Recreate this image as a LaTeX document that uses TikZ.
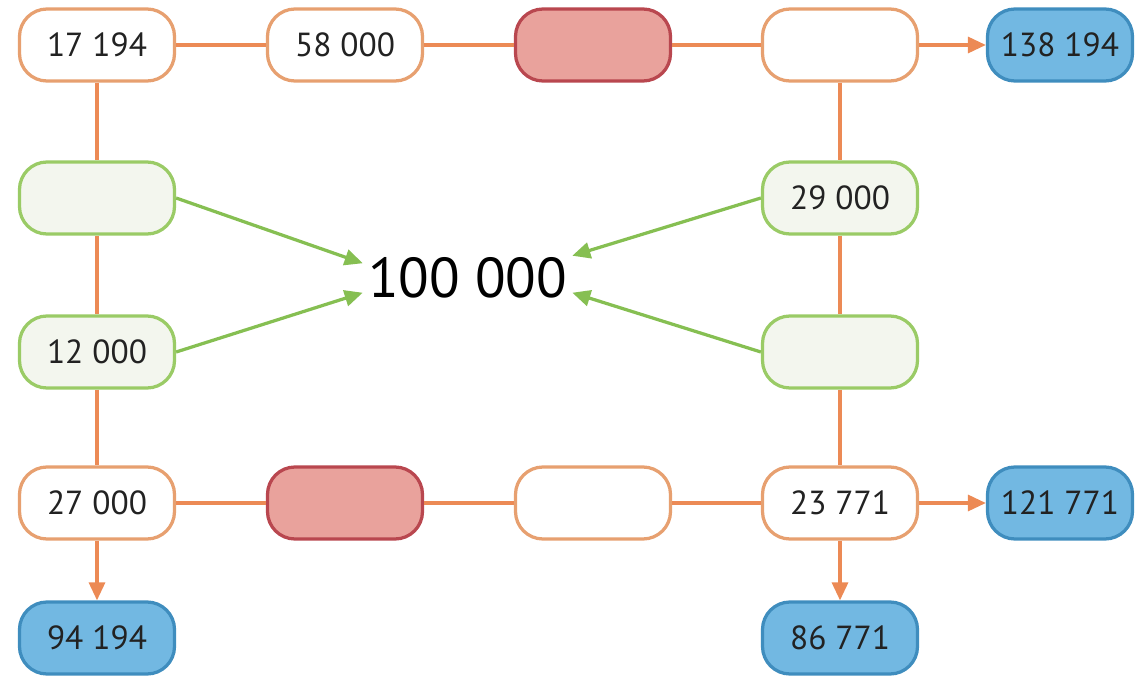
\documentclass[tikz,border=0pt]{standalone}
\usepackage{fontspec}
\setmainfont{PT Sans}
\usetikzlibrary{arrows.meta}
\definecolor{lineor}{HTML}{EC8A55}
\definecolor{boxor}{HTML}{E7A070}
\definecolor{redfill}{HTML}{E9A29C}
\definecolor{redline}{HTML}{B9474F}
\definecolor{bluefill}{HTML}{72B8E2}
\definecolor{blueline}{HTML}{3F8DBE}
\definecolor{grline}{HTML}{9ACB66}
\definecolor{grfill}{HTML}{F3F6EE}
\definecolor{grarrow}{HTML}{86BF52}
\definecolor{numtext}{HTML}{222222}
\tikzset{
  numbox/.style={draw, rounded corners=0.55cm, minimum width=3.1cm, minimum height=1.44cm,
    line width=0.65mm, inner sep=0pt, text=numtext, font=\fontsize{19}{21}\selectfont},
  whitebox/.style={numbox, draw=boxor, fill=white},
  redbox/.style={numbox, draw=redline, fill=redfill},
  bluebox/.style={numbox, draw=blueline, fill=bluefill, minimum width=2.9cm},
  greenbox/.style={numbox, draw=grline, fill=grfill},
  orline/.style={draw=lineor, line width=0.65mm},
  orarrow/.style={orline, -{Triangle[length=0.36cm,width=0.32cm]}},
  grarr/.style={draw=grarrow, line width=0.65mm, -{Triangle[length=0.36cm,width=0.32cm]}}
}
\begin{document}
\begin{tikzpicture}
		%%%%% START %%%%%
		\useasboundingbox (0, 0) rectangle (22.72, 13.5);
		
		% top row
		\node[whitebox] (a1) at (1.94, 12.6) {17 194};
		\node[whitebox] (a2) at (6.9, 12.6) {58 000};
		\node[redbox] (a3) at (11.86, 12.6) {};
		\node[whitebox] (a4) at (16.8, 12.6) {};
		\node[bluebox] (a5) at (21.2, 12.6) {138 194};
		
		% middle
		\node[greenbox] (g1) at (1.94, 9.54) {};
		\node[greenbox] (g2) at (16.8, 9.54) {29 000};
		\node[greenbox] (g3) at (1.94, 6.46) {12 000};
		\node[greenbox] (g4) at (16.8, 6.46) {};
		\node[font=\fontsize{32}{34}\selectfont, inner sep=0.1cm] (c) at (9.35, 7.94) {100 000};
		
		% bottom rows
		\node[whitebox] (b1) at (1.94, 3.44) {27 000};
		\node[redbox] (b2) at (6.9, 3.44) {};
		\node[whitebox] (b3) at (11.86, 3.44) {};
		\node[whitebox] (b4) at (16.8, 3.44) {23 771};
		\node[bluebox] (b5) at (21.2, 3.44) {121 771};
		\node[bluebox, minimum width=3.1cm] (d1) at (1.94, 0.74) {94 194};
		\node[bluebox, minimum width=3.1cm] (d2) at (16.8, 0.74) {86 771};
		
		\draw[orline] (a1) -- (a2);
		\draw[orline] (a2) -- (a3);
		\draw[orline] (a3) -- (a4);
		\draw[orarrow] (a4) -- (a5);
		\draw[orline] (a1) -- (g1);
		\draw[orline] (g1) -- (g3);
		\draw[orline] (g3) -- (b1);
		\draw[orline] (a4) -- (g2);
		\draw[orline] (g2) -- (g4);
		\draw[orline] (g4) -- (b4);
		\draw[orline] (b1) -- (b2);
		\draw[orline] (b2) -- (b3);
		\draw[orline] (b3) -- (b4);
		\draw[orarrow] (b4) -- (b5);
		\draw[orarrow] (b1) -- (d1);
		\draw[orarrow] (b4) -- (d2);
		
		\draw[grarr] (g1.east) -- (c.172);
		\draw[grarr] (g3.east) -- (c.188);
		\draw[grarr] (g2.west) -- (c.12);
		\draw[grarr] (g4.west) -- (c.352);
		
		%%%%% END %%%%%
	\end{tikzpicture}
\end{document}
